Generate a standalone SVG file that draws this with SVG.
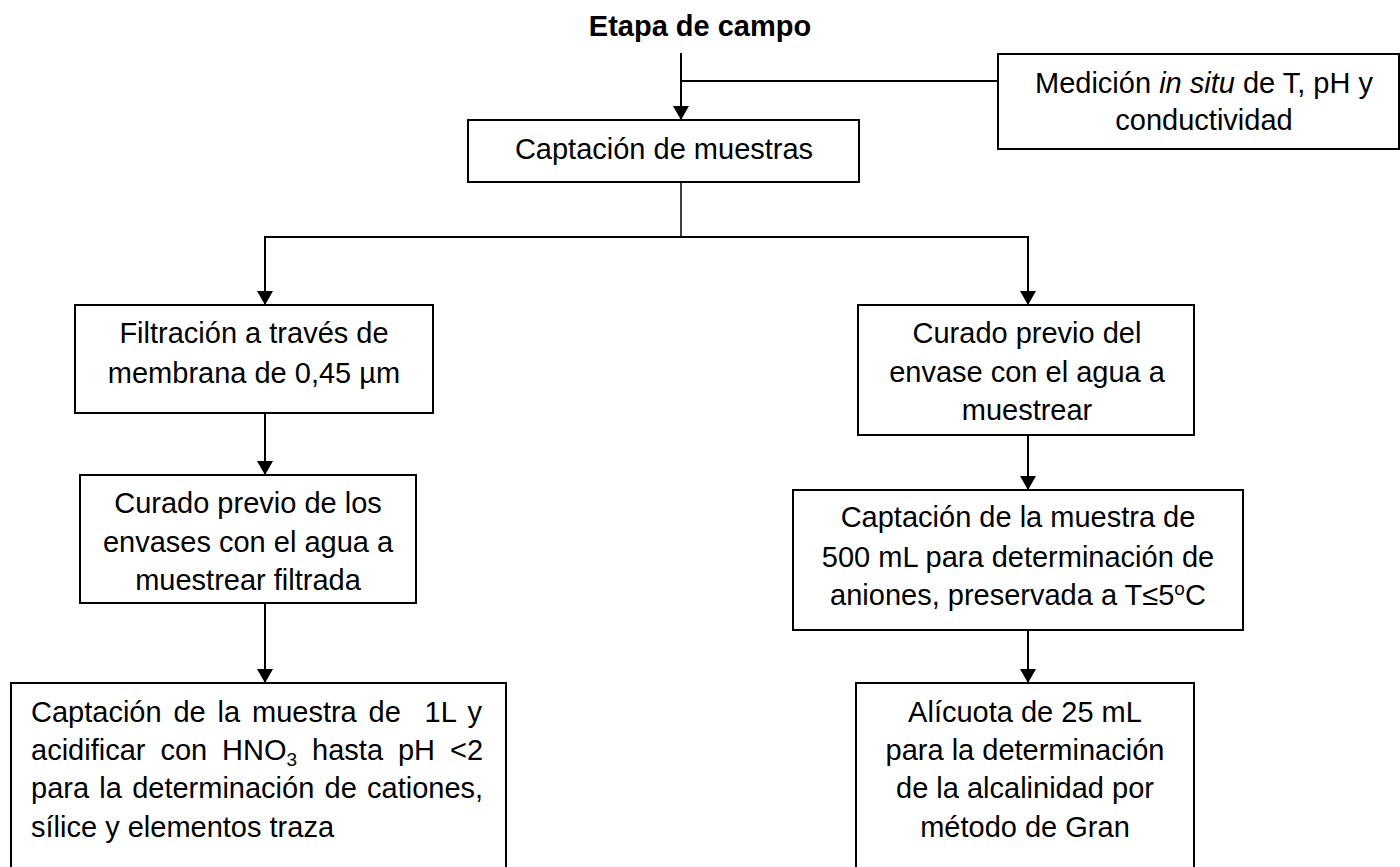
<svg xmlns="http://www.w3.org/2000/svg" width="1400" height="867" viewBox="0 0 1400 867">
<style>
  .box { fill: #ffffff; stroke: #000000; stroke-width: 2; }
  .t { font-family: "Liberation Sans", Arial, sans-serif; font-size: 29px; fill: #000000; }
  .c { text-anchor: middle; }
  .title { font-weight: bold; }
  .ln { fill: none; stroke: #000000; stroke-width: 2; }
  .thin { stroke-width: 1.5; }
</style>
<defs>
  <marker id="arr" markerUnits="userSpaceOnUse" markerWidth="16" markerHeight="16" refX="14" refY="8" orient="auto">
    <path d="M0,0 L14,8 L0,16 Z" fill="#000000"/>
  </marker>
</defs>
<rect width="1400" height="867" fill="#ffffff"/>

<g id="connectors">
  <line class="ln" x1="681" y1="53" x2="681" y2="120" marker-end="url(#arr)"/>
  <line class="ln" x1="681" y1="81" x2="998" y2="81"/>
  <line class="ln thin" x1="681" y1="182" x2="681" y2="237"/>
  <line class="ln" x1="265" y1="237" x2="1028" y2="237"/>
  <line class="ln" x1="265" y1="236" x2="265" y2="305" marker-end="url(#arr)"/>
  <line class="ln" x1="1028" y1="236" x2="1028" y2="305" marker-end="url(#arr)"/>
  <line class="ln" x1="265" y1="413" x2="265" y2="475" marker-end="url(#arr)"/>
  <line class="ln" x1="265" y1="603" x2="265" y2="683" marker-end="url(#arr)"/>
  <line class="ln" x1="1028" y1="435" x2="1028" y2="490" marker-end="url(#arr)"/>
  <line class="ln" x1="1028" y1="630" x2="1028" y2="683" marker-end="url(#arr)"/>
</g>

<g id="title">
  <text class="t c title" x="700" y="36">Etapa de campo</text>
</g>

<g id="medicion">
  <rect class="box" x="998" y="54" width="401" height="95"/>
  <text class="t c" x="1204" y="93">Medición <tspan font-style="italic">in situ</tspan> de T, pH y</text>
  <text class="t c" x="1204" y="130">conductividad</text>
</g>

<g id="captacion">
  <rect class="box" x="468" y="120" width="391" height="62"/>
  <text class="t c" x="664" y="159">Captación de muestras</text>
</g>

<g id="filtracion">
  <rect class="box" x="75" y="305" width="358" height="108"/>
  <text class="t c" x="254" y="343">Filtración a través de</text>
  <text class="t c" x="254" y="383">membrana de 0,45 µm</text>
</g>

<g id="curado-los">
  <rect class="box" x="80" y="475" width="336" height="128"/>
  <text class="t c" x="248" y="513">Curado previo de los</text>
  <text class="t c" x="248" y="552">envases con el agua a</text>
  <text class="t c" x="248" y="590">muestrear filtrada</text>
</g>

<g id="captacion-1L">
  <rect class="box" x="11" y="683" width="495" height="200"/>
  <text class="t" x="31" y="722" style="word-spacing:3.8px" xml:space="preserve">Captación de la muestra de  1L y</text>
  <text class="t" x="31" y="760" style="word-spacing:6.9px">acidificar con HNO<tspan font-size="19" dy="6">3</tspan><tspan dy="-6"> hasta pH &lt;2</tspan></text>
  <text class="t" x="31" y="798" style="word-spacing:2.2px">para la determinación de cationes,</text>
  <text class="t" x="31" y="837">sílice y elementos traza</text>
</g>

<g id="curado-del">
  <rect class="box" x="858" y="305" width="336" height="130"/>
  <text class="t c" x="1027" y="343">Curado previo del</text>
  <text class="t c" x="1027" y="382">envase con el agua a</text>
  <text class="t c" x="1027" y="420">muestrear</text>
</g>

<g id="captacion-500">
  <rect class="box" x="793" y="490" width="450" height="140"/>
  <text class="t c" x="1018" y="527">Captación de la muestra de</text>
  <text class="t c" x="1018" y="567">500 mL para determinación de</text>
  <text class="t c" x="1018" y="605">aniones, preservada a T≤5<tspan font-size="19" dy="-10">o</tspan><tspan dy="10">C</tspan></text>
</g>

<g id="alicuota">
  <rect class="box" x="856" y="683" width="338" height="200"/>
  <text class="t c" x="1025" y="722">Alícuota de 25 mL</text>
  <text class="t c" x="1025" y="760">para la determinación</text>
  <text class="t c" x="1025" y="798">de la alcalinidad por</text>
  <text class="t c" x="1025" y="837">método de Gran</text>
</g>
</svg>
